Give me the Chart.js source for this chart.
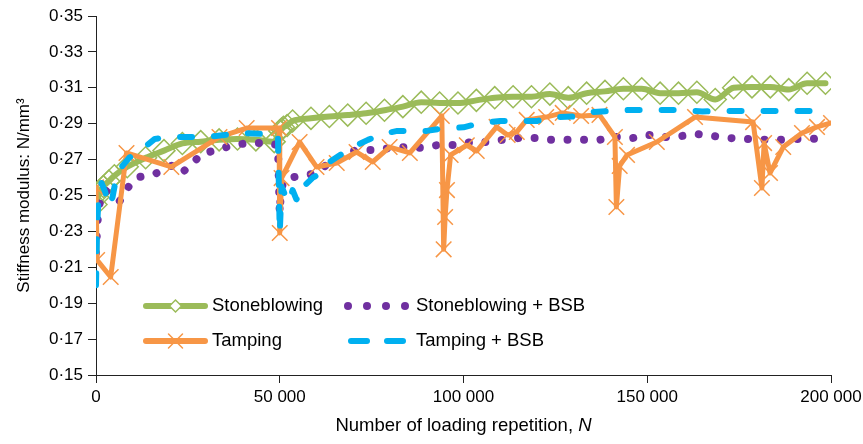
<!DOCTYPE html>
<html>
<head>
<meta charset="utf-8">
<script src="https://cdn.jsdelivr.net/npm/chart.js@4.4.1/dist/chart.umd.min.js"></script>
<style>
    html, body { margin: 0; padding: 0; background: #fff; }
</style>
</head>
<body>
<canvas id="chart" width="863" height="444"></canvas>
<script>
// ---------------------------------------------------------------------------
// Data
// ---------------------------------------------------------------------------

const xTicks = [0, 50000, 100000, 150000, 200000];
const yTicks = [0.15, 0.17, 0.19, 0.21, 0.23, 0.25, 0.27, 0.29, 0.31, 0.33, 0.35];

// Stoneblowing
const stoneN = [0, 500, 1000, 2000, 3500, 5000, 8500, 13500, 18500, 23500,
    28500, 33500, 38500, 43500, 48500, 50000, 50500, 51000, 52000, 53500,
    58500, 63500, 68500, 73500, 78500, 83500, 88500, 93500, 98500, 103500,
    108500, 113500, 118500, 123500, 128500, 133500, 138500, 143500, 148500, 153500,
    158500, 163500, 168500, 173500, 178500, 183500, 188500, 193500, 198500];
const stoneVal = [0.245, 0.249, 0.252, 0.255, 0.258, 0.261, 0.266, 0.271, 0.275, 0.279,
    0.280, 0.281, 0.2815, 0.281, 0.280, 0.286, 0.287, 0.288, 0.289, 0.2915,
    0.293, 0.294, 0.2948, 0.2958, 0.2975, 0.2995, 0.302, 0.3015, 0.3015, 0.303,
    0.3045, 0.305, 0.305, 0.3065, 0.3045, 0.307, 0.308, 0.3095, 0.3095, 0.307,
    0.307, 0.3075, 0.3035, 0.310, 0.3105, 0.3105, 0.309, 0.3125, 0.3125];

// Stoneblowing + BSB
const stoneBsbN = [0, 300, 700, 1500, 2500, 3500, 5000, 6500, 8000, 9500,
    11000, 13500, 16000, 19000, 21000, 23500, 26000, 28500, 33000, 37500,
    42000, 46500, 49500, 50000, 50300, 51000, 53000, 56000, 59000, 62000,
    65000, 70900, 75800, 80500, 84600, 88700, 93000, 97600, 102300, 106600,
    110500, 115000, 119500, 123500, 128000, 132500, 137000, 141500, 146000, 150500,
    155000, 159500, 163500, 167800, 172500, 177000, 181500, 186000, 190000, 194500,
    199000];
const stoneBsbVal = [0.218, 0.232, 0.243, 0.250, 0.253, 0.251, 0.249, 0.247, 0.252, 0.257,
    0.260, 0.261, 0.262, 0.265, 0.267, 0.263, 0.267, 0.273, 0.2755, 0.2782,
    0.2793, 0.2793, 0.278, 0.240, 0.252, 0.258, 0.260, 0.261, 0.262, 0.266,
    0.270, 0.2754, 0.2754, 0.2765, 0.2770, 0.2765, 0.2781, 0.2781, 0.2798, 0.2798,
    0.2810, 0.2820, 0.2820, 0.2810, 0.2810, 0.2810, 0.2810, 0.2826, 0.2820, 0.2837,
    0.2826, 0.2832, 0.2843, 0.2832, 0.2820, 0.2815, 0.2810, 0.2810, 0.2815, 0.2815,
    0.2820];

// Tamping
const tampN = [0, 300, 4000, 8300, 20500, 33600, 41000, 49800, 50000, 50500,
    55400, 60000, 65500, 70900, 75300, 79900, 85400, 94100, 94600, 95000,
    95500, 96500, 100900, 103600, 109000, 112000, 114500, 117200, 122500, 127000,
    132000, 137000, 141200, 141600, 142500, 144500, 152600, 163000, 178800, 181200,
    181800, 183400, 187000, 192100, 196200, 200000];
const tampVal = [0.2545, 0.214, 0.2046, 0.2737, 0.2659, 0.2826, 0.2876, 0.2876, 0.2291, 0.2597,
    0.2798, 0.2659, 0.2681, 0.2742, 0.2687, 0.2770, 0.2737, 0.2943, 0.220, 0.238,
    0.253, 0.2726, 0.278, 0.2748, 0.2882, 0.2837, 0.2854, 0.2921, 0.2937, 0.2960,
    0.2943, 0.2949, 0.2826, 0.2436, 0.2665, 0.2726, 0.2798, 0.2937, 0.2909, 0.2542,
    0.2792, 0.2625, 0.277, 0.2848, 0.2882, 0.2904];

// Tamping + BSB
const tampBsbN = [0, 300, 700, 1500, 2500, 3500, 4500, 5500, 7000, 9000,
    12000, 16000, 20000, 25000, 30000, 35000, 40000, 45000, 49500, 50000,
    50500, 51500, 52500, 53500, 54500, 55500, 57000, 59000, 61000, 63000,
    66000, 70000, 74000, 78000, 82000, 86000, 90000, 95000, 100000, 105000,
    110000, 115000, 120000, 125000, 130000, 135000, 140000, 145000, 150000, 155000,
    160000, 165000, 170000, 175000, 180000, 185000, 190000, 195000, 200000];
const tampBsbVal = [0.200, 0.232, 0.250, 0.257, 0.252, 0.244, 0.249, 0.260, 0.266, 0.271,
    0.275, 0.2815, 0.2826, 0.2826, 0.2826, 0.2837, 0.2848, 0.2843, 0.2837, 0.229,
    0.255, 0.250, 0.246, 0.253, 0.248, 0.247, 0.256, 0.260, 0.262, 0.268,
    0.272, 0.277, 0.281, 0.2843, 0.2860, 0.2860, 0.2860, 0.2875, 0.288, 0.2905,
    0.2915, 0.2915, 0.2915, 0.2937, 0.2940, 0.2965, 0.2971, 0.2976, 0.2976, 0.2976,
    0.2976, 0.2968, 0.2971, 0.2971, 0.2971, 0.2971, 0.2971, 0.2971, 0.2976];

// ---------------------------------------------------------------------------
// Styling
// ---------------------------------------------------------------------------

const GREEN = '#9bbb59';
const ORANGE = '#f79646';
const PURPLE = '#7030a0';
const CYAN = '#00b0f0';
const FONT = "'Liberation Sans', Arial, sans-serif";
const TEXT_SIZE = 18.5;

const AREA = { left: 96, right: 831, top: 16, bottom: 375 };

function pairs(xs, ys) {
    const n = Math.min(xs.length, ys.length);
    const out = [];
    for (let i = 0; i < n; i++) out.push({ x: xs[i], y: ys[i] });
    return out;
}

function fmtX(v) {
    if (v === 0) return '0';
    return String(v).replace(/\B(?=(\d{3})+(?!\d))/g, ' ');
}

function fmtY(v) {
    return v.toFixed(2).replace('.', '\u00b7');
}

// Legend inside the plot + axis titles (italic N needs mixed fonts)
const annotations = {
    id: 'annotations',
    afterDraw(chart) {
        const ctx = chart.ctx;
        ctx.save();

        ctx.font = TEXT_SIZE + 'px ' + FONT;
        ctx.fillStyle = '#000';
        ctx.textBaseline = 'middle';
        ctx.textAlign = 'left';

        const row1 = 306, row2 = 341;
        const c1 = 146, c1e = 205, c2 = 348;

        // Stoneblowing
        ctx.lineCap = 'round';
        ctx.lineWidth = 6;
        ctx.strokeStyle = GREEN;
        ctx.beginPath(); ctx.moveTo(c1, row1); ctx.lineTo(c1e, row1); ctx.stroke();
        const mx = (c1 + c1e) / 2;
        ctx.lineWidth = 1.5;
        ctx.fillStyle = '#fff';
        ctx.beginPath();
        ctx.moveTo(mx - 6, row1); ctx.lineTo(mx, row1 - 6);
        ctx.lineTo(mx + 6, row1); ctx.lineTo(mx, row1 + 6); ctx.closePath();
        ctx.fill(); ctx.stroke();

        // Tamping
        ctx.lineWidth = 6;
        ctx.strokeStyle = ORANGE;
        ctx.beginPath(); ctx.moveTo(c1, row2); ctx.lineTo(c1e, row2); ctx.stroke();
        ctx.lineWidth = 1.5;
        ctx.beginPath();
        ctx.moveTo(mx - 7, row2 - 7); ctx.lineTo(mx + 7, row2 + 7);
        ctx.moveTo(mx - 7, row2 + 7); ctx.lineTo(mx + 7, row2 - 7);
        ctx.stroke();

        // Stoneblowing + BSB
        ctx.fillStyle = PURPLE;
        for (let i = 0; i < 4; i++) {
            ctx.beginPath();
            ctx.arc(c2 + i * 19, row1, 4, 0, Math.PI * 2);
            ctx.fill();
        }

        // Tamping + BSB
        ctx.strokeStyle = CYAN;
        ctx.lineWidth = 6;
        ctx.beginPath();
        ctx.moveTo(c2 + 3, row2); ctx.lineTo(c2 + 19, row2);
        ctx.moveTo(c2 + 39, row2); ctx.lineTo(c2 + 55, row2);
        ctx.stroke();

        ctx.fillStyle = '#000';
        ctx.fillText('Stoneblowing', 212, row1);
        ctx.fillText('Tamping', 212, row2);
        ctx.fillText('Stoneblowing + BSB', 416, row1);
        ctx.fillText('Tamping + BSB', 416, row2);

        // x axis title
        const part1 = 'Number of loading repetition, ';
        const w1 = ctx.measureText(part1).width;
        ctx.font = 'italic ' + TEXT_SIZE + 'px ' + FONT;
        const w2 = ctx.measureText('N').width;
        const tx = (AREA.left + AREA.right) / 2 - (w1 + w2) / 2;
        ctx.font = TEXT_SIZE + 'px ' + FONT;
        ctx.fillText(part1, tx, 426);
        ctx.font = 'italic ' + TEXT_SIZE + 'px ' + FONT;
        ctx.fillText('N', tx + w1, 426);

        // y axis title
        ctx.font = '17px ' + FONT;
        ctx.translate(24, (AREA.top + AREA.bottom) / 2);
        ctx.rotate(-Math.PI / 2);
        ctx.textAlign = 'center';
        ctx.fillText('Stiffness modulus: N/mm\u00b3', 0, 0);

        ctx.restore();
    }
};

Chart.defaults.font.family = FONT;
Chart.defaults.font.size = 17;
Chart.defaults.color = '#000';

new Chart(document.getElementById('chart'), {
    type: 'line',
    data: {
        datasets: [
            {
                label: 'Stoneblowing',
                data: pairs(stoneN, stoneVal),
                borderColor: GREEN,
                borderWidth: 6,
                cubicInterpolationMode: 'monotone',
                borderJoinStyle: 'round',
                borderCapStyle: 'round',
                pointStyle: 'rectRot',
                pointRadius: 11,
                pointBorderWidth: 1.5,
                pointBorderColor: GREEN,
                pointBackgroundColor: 'rgba(0,0,0,0)',
                order: 3
            },
            {
                label: 'Stoneblowing + BSB',
                data: pairs(stoneBsbN, stoneBsbVal),
                borderColor: PURPLE,
                borderWidth: 8,
                borderDash: [0.01, 16.5],
                borderCapStyle: 'round',
                borderJoinStyle: 'round',
                pointRadius: 0,
                order: 2
            },
            {
                label: 'Tamping',
                data: pairs(tampN, tampVal),
                borderColor: ORANGE,
                borderWidth: 5,
                borderJoinStyle: 'round',
                borderCapStyle: 'round',
                pointStyle: 'crossRot',
                pointRadius: 11,
                pointBorderWidth: 1.5,
                pointBorderColor: ORANGE,
                order: 1
            },
            {
                label: 'Tamping + BSB',
                data: pairs(tampBsbN, tampBsbVal),
                borderColor: CYAN,
                borderWidth: 6,
                borderDash: [12, 22],
                borderCapStyle: 'round',
                borderJoinStyle: 'round',
                pointRadius: 0,
                order: 0
            }
        ]
    },
    options: {
        responsive: false,
        animation: false,
        events: [],
        layout: { padding: { left: 0, right: 863 - AREA.right, top: AREA.top, bottom: 0 } },
        plugins: {
            legend: { display: false },
            tooltip: { enabled: false }
        },
        scales: {
            x: {
                type: 'linear',
                min: 0,
                max: 200000,
                grid: { drawOnChartArea: false, drawTicks: true, tickLength: 8, color: '#222' },
                border: { display: true, color: '#222', width: 1 },
                ticks: { padding: 4, maxRotation: 0, callback: v => fmtX(v) },
                afterBuildTicks: s => { s.ticks = xTicks.map(v => ({ value: v })); },
                afterFit: s => {
                    s.height = 444 - AREA.bottom;
                    s.paddingLeft = 0;
                    s.paddingRight = 0;
                }
            },
            y: {
                min: 0.15,
                max: 0.35,
                grid: { drawOnChartArea: false, drawTicks: true, tickLength: 8, color: '#222' },
                border: { display: true, color: '#222', width: 1 },
                ticks: { padding: 5, callback: v => fmtY(v) },
                afterBuildTicks: s => { s.ticks = yTicks.map(v => ({ value: v })); },
                afterFit: s => {
                    s.width = AREA.left;
                    s.paddingTop = 0;
                    s.paddingBottom = 0;
                }
            }
        }
    },
    plugins: [annotations]
});
</script>
</body>
</html>
